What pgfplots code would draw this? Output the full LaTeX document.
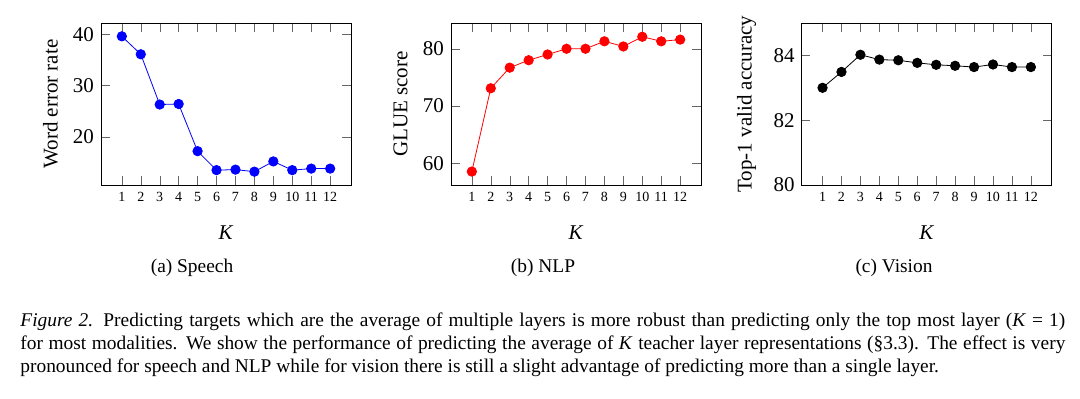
\documentclass[border=0pt]{standalone}
\usepackage{pgfplots}
\pgfplotsset{compat=1.18}
\usepackage{fontspec}
\setmainfont{Liberation Serif}
\pgfplotsset{
  myax/.style={
    scale only axis, width=125pt, height=81pt, anchor=south west,
    xmin=-0.1, xmax=13.1, xtick={1,...,12},
    /pgf/number format/assume math mode=true,
    xticklabel style={font=\fontsize{7}{8}\selectfont},
    yticklabel style={font=\fontsize{10.5}{12}\selectfont},
    label style={font=\fontsize{10.5}{12}\selectfont},
    xlabel={\textit{K}},
    xlabel style={at={(axis description cs:0.5,-0.296)}, anchor=center},
    ylabel style={at={(axis description cs:-0.202,0.5)}, anchor=center, rotate=0},
    tick style={black!60},
    every axis plot/.append style={thin, mark=*, mark size=2.35pt},
  }
}
\begin{document}
\begin{tikzpicture}
\path (0,0) rectangle (540pt,199pt);
% (a) Speech
\begin{axis}[myax, at={(50.5pt,106.5pt)}, ymin=10.6, ymax=42.2, ytick={20,30,40}, ylabel={Word error rate}]
\addplot[color=blue, mark options={fill=blue}] coordinates {
(1,39.6) (2,36.1) (3,26.3) (4,26.4) (5,17.2) (6,13.5) (7,13.6) (8,13.2) (9,15.2) (10,13.5) (11,13.8) (12,13.8)};
\end{axis}
% (b) NLP
\begin{axis}[myax, at={(225.5pt,106.5pt)}, ymin=56.2, ymax=84.5, ytick={60,70,80}, ylabel={GLUE score}]
\addplot[color=red, mark options={fill=red}] coordinates {
(1,58.55) (2,73.1) (3,76.7) (4,78.0) (5,79.0) (6,80.0) (7,80.0) (8,81.3) (9,80.4) (10,82.1) (11,81.3) (12,81.6)};
\end{axis}
% (c) Vision
\begin{axis}[myax, at={(400.85pt,106.5pt)}, ymin=80, ymax=85, ytick={80,82,84}, ylabel={Top-1 valid accuracy},
  ylabel style={at={(axis description cs:-0.22,0.5)}}]
\addplot[color=black, mark options={fill=black}] coordinates {
(1,83.0) (2,83.49) (3,84.02) (4,83.87) (5,83.85) (6,83.77) (7,83.71) (8,83.68) (9,83.64) (10,83.72) (11,83.64) (12,83.64)};
\end{axis}
\begin{scope}[every node/.style={inner sep=0pt, font=\fontsize{9.7}{11.7}\selectfont}]
\node at (96pt,65pt) {(a) Speech};
\node at (271.5pt,65pt) {(b) NLP};
\node at (447pt,65pt) {(c) Vision};
\node[anchor=base west] at (10pt,36pt) {\makebox[522.5pt][s]{\textit{Figure 2.} Predicting targets which are the average of multiple layers is more robust than predicting only the top most layer (\textit{K} = 1)}};
\node[anchor=base west] at (10pt,24.35pt) {\makebox[522.5pt][s]{for most modalities. We show the performance of predicting the average of \textit{K} teacher layer representations (§3.3). The effect is very}};
\node[anchor=base west] at (10pt,12.65pt) {pronounced for speech and NLP while for vision there is still a slight advantage of predicting more than a single layer.};
\end{scope}
\end{tikzpicture}
\end{document}
